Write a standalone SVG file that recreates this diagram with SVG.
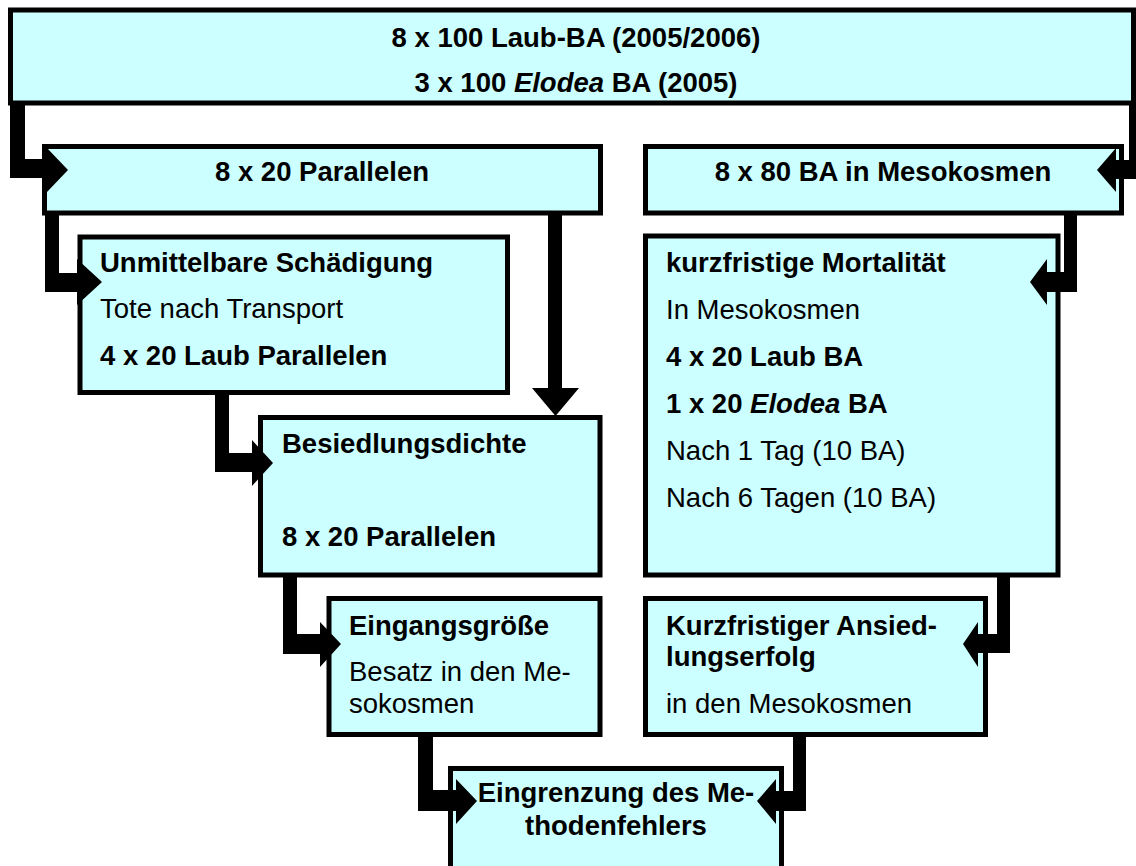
<svg xmlns="http://www.w3.org/2000/svg" width="1136" height="866" viewBox="0 0 1136 866">
<style>
.box{fill:#CCFFFF;stroke:#000;stroke-width:5}
text{font-family:"Liberation Sans",Arial,Helvetica,sans-serif;font-size:27.5px;fill:#000}
.b{font-weight:bold}
.c{text-anchor:middle}
.i{font-style:italic}
.con{fill:#000;stroke:none}
</style>
<rect width="1136" height="866" fill="#fff"/>
<g id="top">
<rect class="box" x="10.5" y="10" width="1123" height="93"/>
<text class="b c" x="576" y="47">8 x 100 Laub-BA (2005/2006)</text>
<text class="b c" x="576" y="92">3 x 100 <tspan class="i">Elodea</tspan> BA (2005)</text>
</g>
<g id="parallelen">
<rect class="box" x="44.5" y="146.5" width="556" height="66.5"/>
<text class="b c" x="322" y="181">8 x 20 Parallelen</text>
</g>
<g id="mesokosmen">
<rect class="box" x="645.5" y="146.5" width="476" height="66.5"/>
<text class="b c" x="883" y="181">8 x 80 BA in Mesokosmen</text>
</g>
<g id="schaedigung">
<rect class="box" x="80" y="237" width="427.5" height="155.5"/>
<text class="b" x="100" y="272">Unmittelbare Schädigung</text>
<text x="100" y="318">Tote nach Transport</text>
<text class="b" x="100" y="365">4 x 20 Laub Parallelen</text>
</g>
<g id="mortalitaet">
<rect class="box" x="645.5" y="236" width="412.5" height="339"/>
<text class="b" x="666" y="272">kurzfristige Mortalität</text>
<text x="666" y="319">In Mesokosmen</text>
<text class="b" x="666" y="366">4 x 20 Laub BA</text>
<text class="b" x="666" y="413">1 x 20 <tspan class="i">Elodea</tspan> BA</text>
<text x="666" y="460">Nach 1 Tag (10 BA)</text>
<text x="666" y="507">Nach 6 Tagen (10 BA)</text>
</g>
<g id="besiedlungsdichte">
<rect class="box" x="260.5" y="417.5" width="339.5" height="157.5"/>
<text class="b" x="282" y="453">Besiedlungsdichte</text>
<text class="b" x="282" y="546">8 x 20 Parallelen</text>
</g>
<g id="eingangsgroesse">
<rect class="box" x="329" y="598.5" width="271" height="136"/>
<text class="b" x="349" y="635">Eingangsgröße</text>
<text x="349" y="681">Besatz in den Me-</text>
<text x="349" y="713">sokosmen</text>
</g>
<g id="ansiedlungserfolg">
<rect class="box" x="645.5" y="598.5" width="340" height="136"/>
<text class="b" x="666" y="635">Kurzfristiger Ansied-</text>
<text class="b" x="666" y="666">lungserfolg</text>
<text x="666" y="713">in den Mesokosmen</text>
</g>
<g id="methodenfehler">
<rect class="box" x="450.5" y="768.5" width="331" height="140"/>
<text class="b c" x="616" y="802">Eingrenzung des Me-</text>
<text class="b c" x="616" y="835">thodenfehlers</text>
</g>
<g id="connectors">
<path class="con" d="M10,103 H25 V159 H47 V148 L68,170 L47,192 V178 H10 Z"/>
<path class="con" d="M1142,103 V179 H1116 V192 L1097,170 L1116,148 V160 H1129 V103 Z"/>
<path class="con" d="M45,213 H59 V273 H77 V259 L102,282 L77,305 V292 H45 Z"/>
<path class="con" d="M548,213 H562 V388 H579 L555.5,416 L532,388 H548 Z"/>
<path class="con" d="M215,392 H229 V453 H252 V440 L273,463 L252,486 V472 H215 Z"/>
<path class="con" d="M1064,213 H1077 V292 H1047 V305 L1030,282 L1047,259 V272 H1064 Z"/>
<path class="con" d="M283,575 H297 V634 H320 V622 L341,644 L320,667 V654 H283 Z"/>
<path class="con" d="M997,575 H1010 V653 H978 V667 L963,644 L978,622 V634 H997 Z"/>
<path class="con" d="M418,734 H433 V790 H456 V779 L477,801 L456,824 V811 H418 Z"/>
<path class="con" d="M793,734 H806 V811 H776 V824 L757,801 L776,779 V791 H793 Z"/>
</g>
</svg>
